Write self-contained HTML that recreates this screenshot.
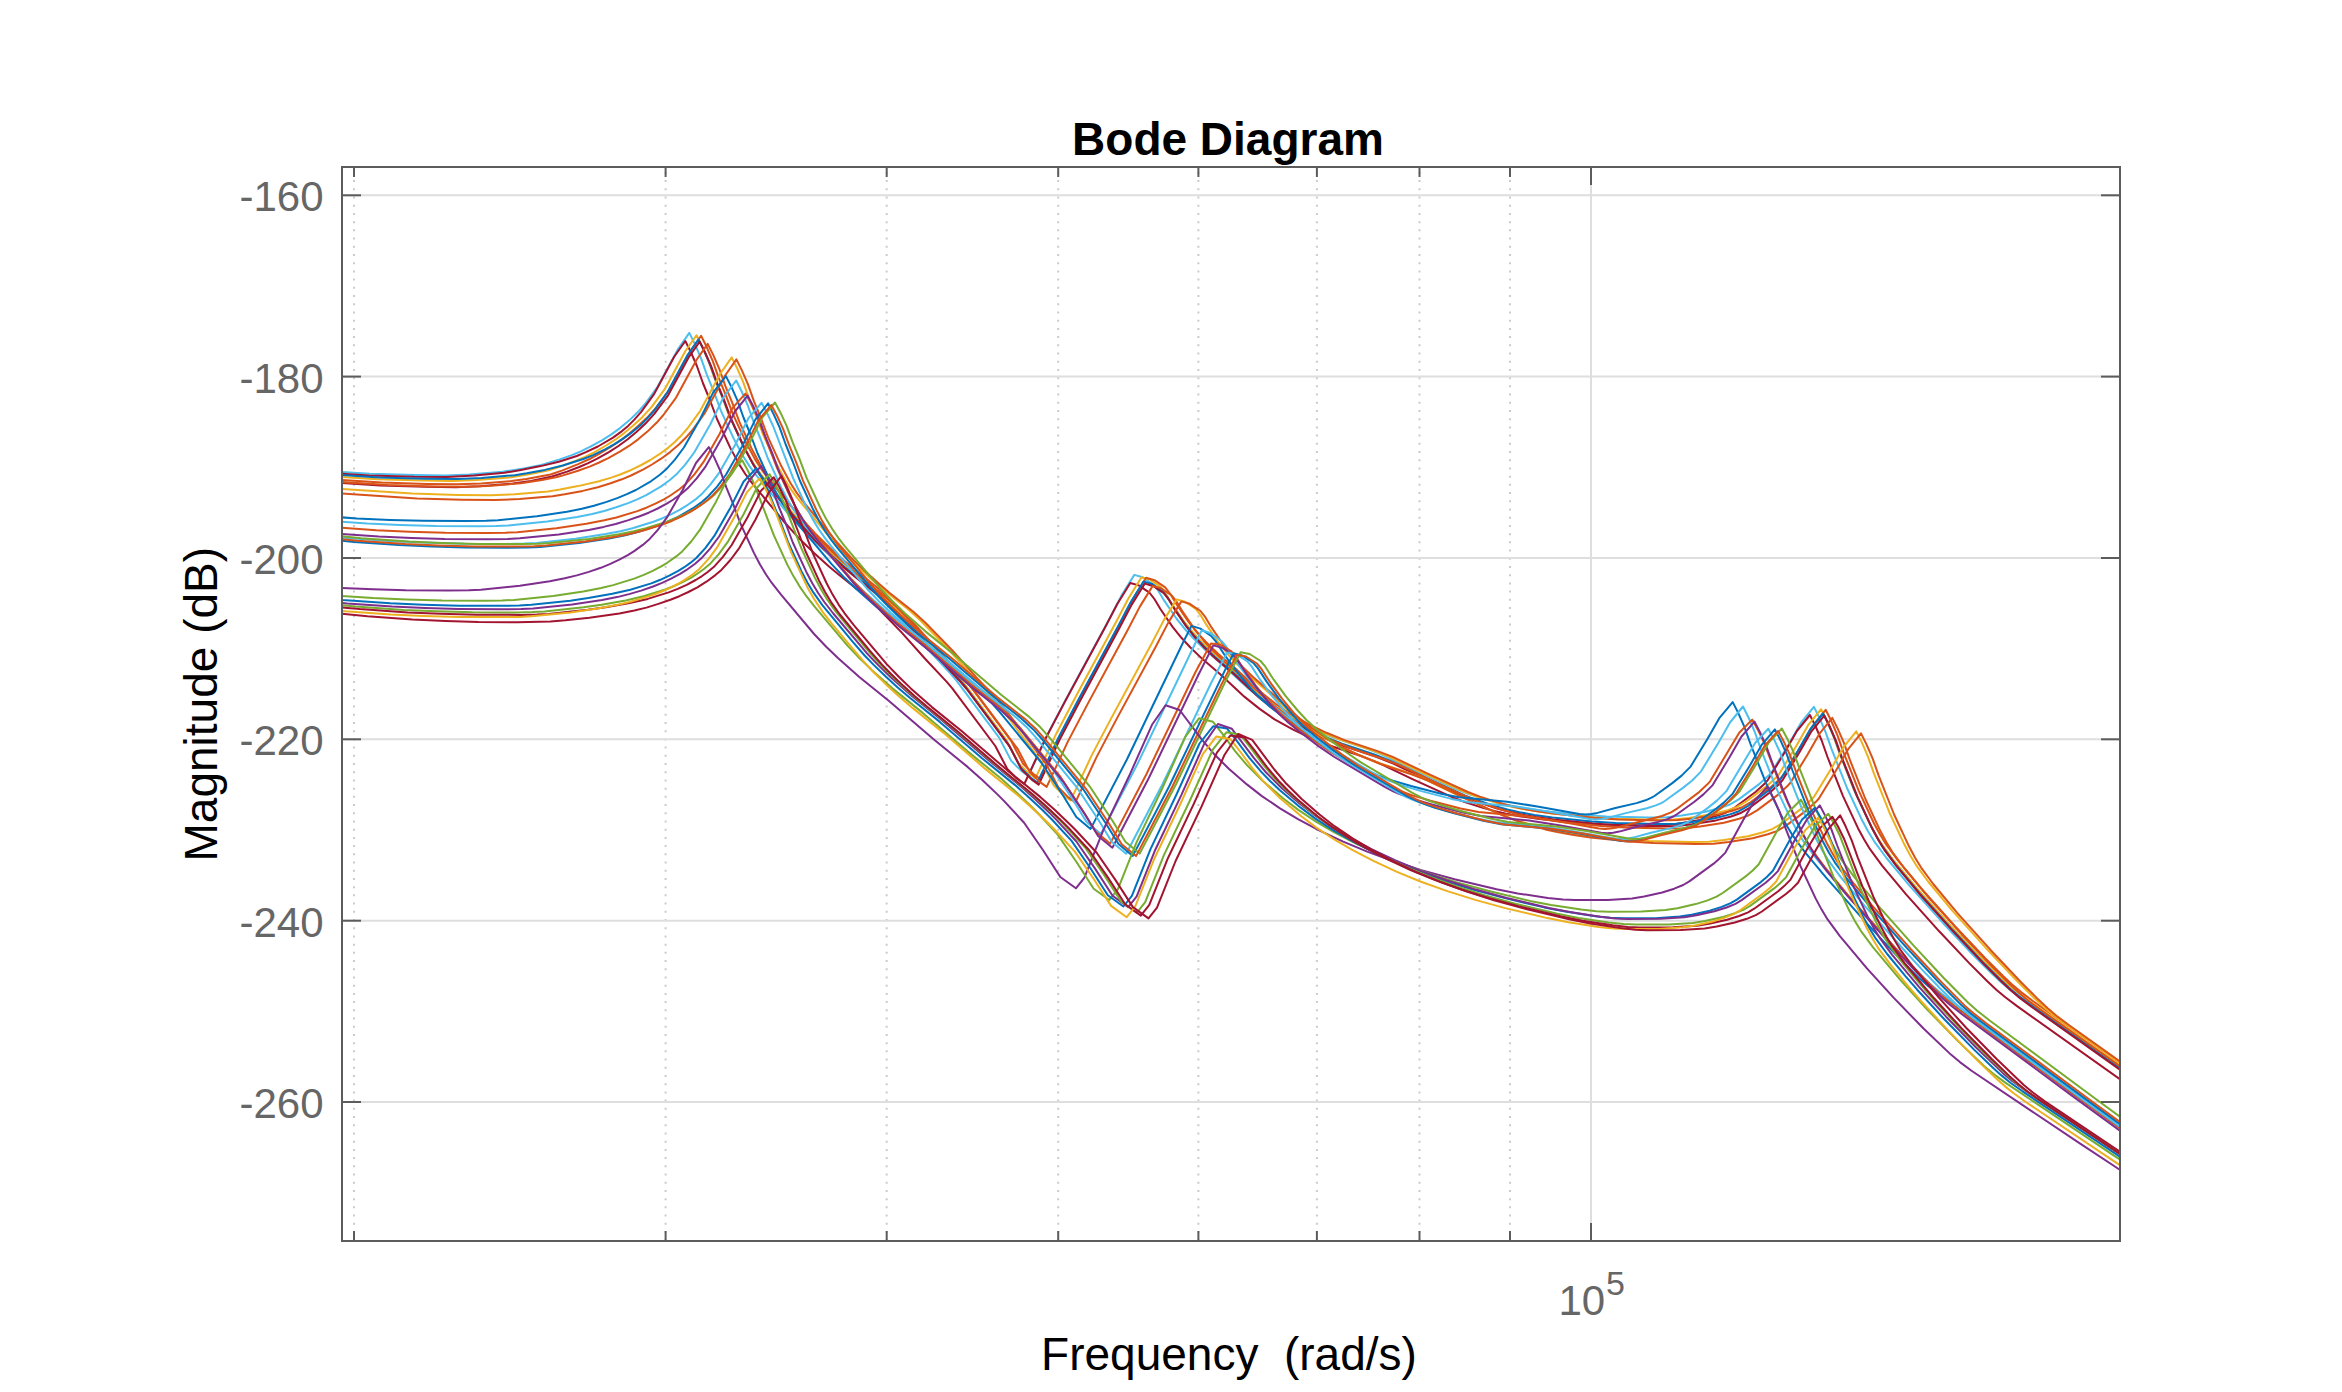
<!DOCTYPE html>
<html><head><meta charset="utf-8"><title>Bode Diagram</title>
<style>
html,body{margin:0;padding:0;background:#fff;}
svg{display:block;}
.gr{stroke:#dedede;stroke-width:2;}
.mg{stroke:#cbcbcb;stroke-width:2;stroke-dasharray:2 6.21;stroke-dashoffset:3.32;}
.tk{stroke:#5c5c5c;stroke-width:2;}
.tl{font-family:"Liberation Sans",Arial,sans-serif;font-size:42px;fill:#666;}
.lab{font-family:"Liberation Sans",Arial,sans-serif;font-size:46px;fill:#000;white-space:pre;}
.cv path{fill:none;stroke-width:2;stroke-linejoin:round;}
</style></head><body>
<svg width="2342" height="1392" viewBox="0 0 2342 1392">
<rect width="2342" height="1392" fill="#fff"/>
<defs><clipPath id="pc"><rect x="342.0" y="167.0" width="1778.0" height="1074.0"/></clipPath></defs>
<line x1="354.0" y1="167.0" x2="354.0" y2="1241.0" class="mg"/>
<line x1="665.6" y1="167.0" x2="665.6" y2="1241.0" class="mg"/>
<line x1="886.7" y1="167.0" x2="886.7" y2="1241.0" class="mg"/>
<line x1="1058.2" y1="167.0" x2="1058.2" y2="1241.0" class="mg"/>
<line x1="1198.4" y1="167.0" x2="1198.4" y2="1241.0" class="mg"/>
<line x1="1316.9" y1="167.0" x2="1316.9" y2="1241.0" class="mg"/>
<line x1="1419.5" y1="167.0" x2="1419.5" y2="1241.0" class="mg"/>
<line x1="1510.0" y1="167.0" x2="1510.0" y2="1241.0" class="mg"/>
<line x1="1591.0" y1="167.0" x2="1591.0" y2="1241.0" class="gr"/>
<line x1="342.0" y1="195.3" x2="2120.0" y2="195.3" class="gr"/>
<line x1="342.0" y1="376.6" x2="2120.0" y2="376.6" class="gr"/>
<line x1="342.0" y1="558.0" x2="2120.0" y2="558.0" class="gr"/>
<line x1="342.0" y1="739.3" x2="2120.0" y2="739.3" class="gr"/>
<line x1="342.0" y1="920.7" x2="2120.0" y2="920.7" class="gr"/>
<line x1="342.0" y1="1102.0" x2="2120.0" y2="1102.0" class="gr"/>
<g class="cv" clip-path="url(#pc)">
<path d="M219.3,466.5 L246.4,466.8 L279.6,467.9 L369.9,473.7 L415.1,475.0 L445.3,475.4 L469.4,474.5 L502.5,471.8 L523.6,468.5 L538.7,465.6 L544.7,464.0 L559.7,459.4 L571.8,455.1 L580.8,451.3 L589.9,446.9 L601.9,440.3 L611.0,434.6 L620.0,428.1 L629.0,420.6 L638.1,411.8 L645.0,404.0 L657.7,386.6 L678.2,348.7 L689.3,332.9 L694.8,343.9 L700.9,357.9 L706.9,374.9 L713.9,391.9 L721.0,410.9 L734.3,439.8 L743.3,456.5 L749.3,465.9 L755.3,474.1 L788.3,513.9 L803.3,530.5 L818.3,545.1 L833.3,558.6 L842.3,566.2 L866.3,585.3 L878.3,596.2 L905.3,624.0 L929.3,650.9 L950.3,673.3 L956.3,680.3 L999.3,737.9 L1011.3,760.9 L1021.3,770.9 L1028.3,775.9 L1049.3,730.9 L1069.3,692.9 L1109.3,618.9 L1121.3,595.9 L1134.3,574.9 L1142.7,577.3 L1153.4,584.5 L1158.4,590.9 L1164.4,600.9 L1176.4,618.5 L1185.4,629.7 L1194.4,639.4 L1206.5,651.0 L1224.5,666.4 L1248.6,688.8 L1263.6,700.8 L1278.6,711.3 L1296.7,721.3 L1314.7,729.9 L1332.8,737.2 L1365.8,748.2 L1380.9,754.0 L1417.0,771.3 L1456.1,789.1 L1468.1,793.7 L1486.1,799.5 L1498.2,802.9 L1510.2,805.6 L1525.2,808.3 L1543.3,810.9 L1582.4,814.9 L1606.4,816.5 L1648.5,817.5 L1666.6,817.2 L1681.6,815.6 L1705.6,811.7 L1720.7,807.8 L1729.7,804.6 L1738.7,799.4 L1759.8,783.6 L1768.8,775.3 L1771.8,772.0 L1788.9,743.9 L1800.9,722.9 L1813.9,706.9 L1819.4,717.9 L1825.5,731.9 L1831.5,748.9 L1847.0,788.0 L1862.0,820.1 L1868.0,831.2 L1874.0,841.1 L1886.1,857.5 L1910.1,886.3 L1943.2,923.2 L1973.2,955.0 L1991.3,973.1 L2000.3,981.6 L2009.3,989.2 L2021.4,998.3 L2129.6,1075.2 L2213.8,1134.0 L2273.9,1175.5" stroke="#4DBEEE"/>
<path d="M215.3,468.2 L242.4,468.5 L275.6,469.6 L369.0,475.5 L414.1,476.8 L447.3,477.0 L474.4,475.6 L504.5,472.8 L519.6,470.2 L540.7,466.1 L558.8,461.7 L576.8,456.0 L585.9,452.2 L597.9,446.5 L613.0,437.6 L622.0,431.1 L628.1,425.9 L634.1,419.9 L641.0,412.1 L653.7,394.7 L674.2,356.8 L685.3,341.0 L690.8,352.0 L696.9,366.0 L702.9,383.0 L709.9,400.0 L717.0,419.0 L730.3,447.9 L739.3,464.6 L745.3,474.0 L751.3,482.2 L784.3,522.0 L799.3,538.6 L814.3,553.2 L829.3,566.7 L838.3,574.3 L862.3,593.4 L874.3,604.3 L901.3,632.1 L925.3,659.0 L946.3,681.4 L952.3,688.4 L995.3,746.0 L1007.3,769.0 L1017.3,779.0 L1024.3,784.0 L1045.3,739.0 L1065.3,701.0 L1105.3,627.0 L1117.3,604.0 L1130.3,583.0 L1138.7,585.4 L1149.4,592.6 L1154.4,599.0 L1160.4,609.0 L1172.4,626.6 L1181.4,637.8 L1190.4,647.5 L1202.5,659.1 L1220.5,674.5 L1244.6,696.9 L1259.6,708.9 L1274.6,719.4 L1292.7,729.4 L1310.7,738.0 L1328.8,745.3 L1361.8,756.3 L1376.9,762.1 L1413.0,779.4 L1452.1,797.2 L1464.1,801.8 L1482.1,807.6 L1494.2,811.0 L1506.2,813.7 L1521.2,816.4 L1539.3,819.0 L1578.4,823.0 L1602.4,824.6 L1644.5,825.6 L1662.6,825.3 L1677.6,823.7 L1701.6,819.8 L1716.7,815.9 L1725.7,812.7 L1734.7,807.5 L1755.8,791.7 L1764.8,783.4 L1767.8,780.1 L1784.9,752.0 L1796.9,731.0 L1809.9,715.0 L1815.4,726.0 L1821.5,740.0 L1827.5,757.0 L1843.0,796.1 L1858.0,828.2 L1864.0,839.3 L1870.0,849.2 L1882.1,865.6 L1906.1,894.4 L1939.2,931.3 L1969.2,963.1 L1987.3,981.2 L1996.3,989.7 L2005.3,997.3 L2017.4,1006.4 L2125.6,1083.3 L2209.8,1142.1 L2269.9,1183.6" stroke="#A2142F"/>
<path d="M226.5,472.0 L253.6,472.4 L286.8,473.4 L377.1,479.3 L422.3,480.6 L452.5,480.9 L476.6,480.1 L509.7,477.4 L527.8,474.6 L548.9,470.3 L563.9,465.3 L576.0,460.7 L585.0,456.8 L594.1,452.3 L606.1,445.5 L615.2,439.7 L624.2,433.1 L633.2,425.6 L642.3,417.2 L651.3,407.3 L664.9,388.9 L685.4,351.0 L696.5,335.2 L702.0,346.2 L708.1,360.2 L714.1,377.2 L721.1,394.2 L728.2,413.2 L741.5,442.1 L750.5,458.8 L756.5,468.2 L762.5,476.4 L795.5,516.2 L810.5,532.8 L825.5,547.4 L840.5,560.9 L849.5,568.5 L873.5,587.6 L885.5,598.5 L912.5,626.3 L936.5,653.2 L957.5,675.6 L963.5,682.6 L1006.5,740.2 L1018.5,763.2 L1028.5,773.2 L1035.5,778.2 L1056.5,733.2 L1076.5,695.2 L1116.5,621.2 L1128.5,598.2 L1141.5,577.2 L1149.9,579.6 L1160.6,586.8 L1165.6,593.2 L1171.6,603.2 L1183.6,620.8 L1192.6,632.0 L1201.6,641.7 L1213.7,653.3 L1231.7,668.7 L1255.8,691.1 L1270.8,703.1 L1285.8,713.6 L1303.9,723.6 L1321.9,732.2 L1340.0,739.5 L1373.0,750.5 L1388.1,756.3 L1424.2,773.6 L1463.3,791.4 L1475.3,796.0 L1493.3,801.8 L1505.4,805.2 L1517.4,807.9 L1532.4,810.6 L1550.5,813.2 L1589.6,817.2 L1613.6,818.8 L1655.7,819.8 L1673.8,819.5 L1688.8,817.9 L1712.8,814.0 L1727.9,810.1 L1736.9,806.9 L1745.9,801.7 L1767.0,785.9 L1776.0,777.6 L1779.0,774.3 L1796.1,746.2 L1808.1,725.2 L1821.1,709.2 L1826.6,720.2 L1832.7,734.2 L1838.7,751.2 L1854.2,790.3 L1869.2,822.4 L1875.2,833.5 L1881.2,843.4 L1893.3,859.8 L1917.3,888.6 L1950.4,925.5 L1980.4,957.3 L1998.5,975.4 L2007.5,983.9 L2016.5,991.5 L2028.6,1000.6 L2136.8,1077.5 L2221.0,1136.3 L2281.1,1177.8" stroke="#EDB120"/>
<path d="M231.1,475.4 L258.2,475.7 L291.4,476.8 L381.7,482.6 L426.9,483.9 L457.1,484.3 L481.2,483.4 L511.3,481.1 L526.4,479.0 L550.5,474.5 L562.5,470.4 L577.6,464.4 L589.6,459.0 L598.7,454.2 L610.7,447.0 L619.8,440.9 L628.8,434.1 L637.8,426.3 L646.9,417.8 L655.9,407.9 L669.5,389.5 L690.0,351.6 L701.1,335.8 L706.6,346.8 L712.7,360.8 L718.7,377.8 L725.7,394.8 L732.8,413.8 L746.1,442.7 L755.1,459.4 L761.1,468.8 L767.1,477.0 L800.1,516.8 L815.1,533.4 L830.1,548.0 L845.1,561.5 L854.1,569.1 L878.1,588.2 L890.1,599.1 L917.1,626.9 L941.1,653.8 L962.1,676.2 L968.1,683.2 L1011.1,740.8 L1023.1,763.8 L1033.1,773.8 L1040.1,778.8 L1061.1,733.8 L1081.1,695.8 L1121.1,621.8 L1133.1,598.8 L1146.1,577.8 L1154.5,580.2 L1165.2,587.4 L1170.2,593.8 L1176.2,603.8 L1188.2,621.4 L1197.2,632.6 L1206.2,642.3 L1218.3,653.9 L1236.3,669.3 L1260.4,691.7 L1275.4,703.7 L1290.4,714.2 L1308.5,724.2 L1326.5,732.8 L1344.6,740.1 L1377.6,751.1 L1392.7,756.9 L1428.8,774.2 L1467.9,792.0 L1479.9,796.6 L1497.9,802.4 L1510.0,805.8 L1522.0,808.5 L1537.0,811.2 L1555.1,813.8 L1594.2,817.8 L1618.2,819.4 L1660.3,820.4 L1678.4,820.1 L1693.4,818.5 L1717.4,814.6 L1732.5,810.7 L1741.5,807.5 L1750.5,802.3 L1771.6,786.5 L1780.6,778.2 L1783.6,774.9 L1800.7,746.8 L1812.7,725.8 L1825.7,709.8 L1831.2,720.8 L1837.3,734.8 L1843.3,751.8 L1858.8,790.9 L1873.8,823.0 L1879.8,834.1 L1885.8,844.0 L1897.9,860.4 L1921.9,889.2 L1955.0,926.1 L1985.0,957.9 L2003.1,976.0 L2012.1,984.5 L2021.1,992.1 L2033.2,1001.2 L2141.4,1078.1 L2225.6,1136.9 L2285.7,1178.4" stroke="#D95319"/>
<path d="M228.5,470.2 L255.6,470.5 L288.8,471.6 L379.1,477.4 L424.3,478.7 L457.5,479.0 L481.6,478.0 L514.7,475.2 L526.8,473.3 L544.8,469.9 L562.9,465.5 L584.0,458.7 L593.1,455.1 L605.1,449.3 L614.1,444.3 L623.2,438.6 L632.2,432.1 L641.3,424.4 L647.3,418.4 L654.2,410.6 L666.9,393.2 L687.4,355.3 L698.5,339.5 L704.0,350.5 L710.1,364.5 L716.1,381.5 L723.1,398.5 L730.2,417.5 L743.5,446.4 L752.5,463.1 L758.5,472.5 L764.5,480.7 L797.5,520.5 L812.5,537.1 L827.5,551.7 L842.5,565.2 L851.5,572.8 L875.5,591.9 L887.5,602.8 L914.5,630.6 L938.5,657.5 L959.5,679.9 L965.5,686.9 L1008.5,744.5 L1020.5,767.5 L1030.5,777.5 L1037.5,782.5 L1058.5,737.5 L1078.5,699.5 L1118.5,625.5 L1130.5,602.5 L1143.5,581.5 L1151.9,583.9 L1162.6,591.1 L1167.6,597.5 L1173.6,607.5 L1185.6,625.1 L1194.6,636.3 L1203.6,646.0 L1215.7,657.6 L1233.7,673.0 L1257.8,695.4 L1272.8,707.4 L1287.8,717.9 L1305.9,727.9 L1323.9,736.5 L1342.0,743.8 L1375.0,754.8 L1390.1,760.6 L1426.2,777.9 L1465.3,795.7 L1477.3,800.3 L1495.3,806.1 L1507.4,809.5 L1519.4,812.2 L1534.4,814.9 L1552.5,817.5 L1591.6,821.5 L1615.6,823.1 L1657.7,824.1 L1675.8,823.8 L1690.8,822.2 L1714.8,818.3 L1729.9,814.4 L1738.9,811.2 L1747.9,806.0 L1769.0,790.2 L1778.0,781.9 L1781.0,778.6 L1798.1,750.5 L1810.1,729.5 L1823.1,713.5 L1828.6,724.5 L1834.7,738.5 L1840.7,755.5 L1856.2,794.6 L1871.2,826.7 L1877.2,837.8 L1883.2,847.7 L1895.3,864.1 L1919.3,892.9 L1952.4,929.8 L1982.4,961.6 L2000.5,979.7 L2009.5,988.2 L2018.5,995.8 L2030.6,1004.9 L2138.8,1081.8 L2223.0,1140.6 L2283.1,1182.1" stroke="#0072BD"/>
<path d="M229.7,478.3 L256.8,478.6 L290.0,479.7 L380.3,485.5 L425.5,486.8 L455.7,487.2 L479.8,486.3 L512.9,483.6 L531.0,480.9 L552.1,476.5 L567.1,471.6 L579.2,467.0 L588.2,463.1 L597.3,458.6 L609.3,451.8 L618.4,446.0 L627.4,439.5 L636.4,432.0 L645.5,423.6 L654.5,413.7 L668.1,395.3 L688.6,357.4 L699.7,341.6 L705.2,352.6 L711.3,366.6 L717.3,383.6 L724.3,400.6 L731.4,419.6 L744.7,448.5 L753.7,465.2 L759.7,474.6 L765.7,482.8 L798.7,522.6 L813.7,539.2 L828.7,553.8 L843.7,567.3 L852.7,574.9 L876.7,594.0 L888.7,604.9 L915.7,632.7 L939.7,659.6 L960.7,682.0 L966.7,689.0 L1009.7,746.6 L1021.7,769.6 L1031.7,779.6 L1038.7,784.6 L1059.7,739.6 L1079.7,701.6 L1119.7,627.6 L1131.7,604.6 L1144.7,583.6 L1153.1,586.0 L1163.8,593.2 L1168.8,599.6 L1174.8,609.6 L1186.8,627.2 L1195.8,638.4 L1204.8,648.1 L1216.9,659.7 L1234.9,675.1 L1259.0,697.5 L1274.0,709.5 L1289.0,720.0 L1307.1,730.0 L1325.1,738.6 L1343.2,745.9 L1376.2,756.9 L1391.3,762.7 L1427.4,780.0 L1466.5,797.8 L1478.5,802.4 L1496.5,808.2 L1508.6,811.6 L1520.6,814.3 L1535.6,817.0 L1553.7,819.6 L1592.8,823.6 L1616.8,825.2 L1658.9,826.2 L1677.0,825.9 L1692.0,824.3 L1716.0,820.4 L1731.1,816.5 L1740.1,813.3 L1749.1,808.1 L1770.2,792.3 L1779.2,784.0 L1782.2,780.7 L1799.3,752.6 L1811.3,731.6 L1824.3,715.6 L1829.8,726.6 L1835.9,740.6 L1841.9,757.6 L1857.4,796.7 L1872.4,828.8 L1878.4,839.9 L1884.4,849.8 L1896.5,866.2 L1920.5,895.0 L1953.6,931.9 L1983.6,963.7 L2001.7,981.8 L2010.7,990.3 L2019.7,997.9 L2031.8,1007.0 L2140.0,1083.9 L2224.2,1142.7 L2284.3,1184.2" stroke="#A2142F"/>
<path d="M237.7,477.9 L264.8,478.3 L298.0,479.3 L388.3,485.1 L433.5,486.5 L463.7,486.8 L487.8,485.9 L520.9,483.3 L542.0,480.0 L557.1,477.0 L563.1,475.4 L578.1,470.7 L590.2,466.4 L599.2,462.5 L608.3,458.1 L620.3,451.4 L629.4,445.7 L638.4,439.1 L647.4,431.6 L656.5,422.8 L663.4,415.0 L676.1,397.6 L696.6,359.7 L707.7,343.9 L713.2,354.9 L719.3,368.9 L725.3,385.9 L732.3,402.9 L739.4,421.9 L752.7,450.8 L761.7,467.5 L767.7,476.9 L773.7,485.1 L806.7,524.9 L821.7,541.5 L836.7,556.1 L851.7,569.6 L860.7,577.2 L884.7,596.3 L896.7,607.2 L923.7,635.0 L947.7,661.9 L968.7,684.3 L974.7,691.3 L1017.7,748.9 L1029.7,771.9 L1039.7,781.9 L1046.7,786.9 L1067.7,741.9 L1087.7,703.9 L1127.7,629.9 L1139.7,606.9 L1152.7,585.9 L1161.1,588.3 L1171.8,595.5 L1176.8,601.9 L1182.8,611.9 L1194.8,629.5 L1203.8,640.7 L1212.8,650.4 L1224.9,662.0 L1242.9,677.4 L1267.0,699.8 L1282.0,711.8 L1297.0,722.3 L1315.1,732.3 L1333.1,740.9 L1351.2,748.2 L1384.2,759.2 L1399.3,765.0 L1435.4,782.3 L1474.5,800.1 L1486.5,804.7 L1504.5,810.5 L1516.6,813.9 L1528.6,816.6 L1543.6,819.3 L1561.7,821.9 L1600.8,825.9 L1624.8,827.5 L1666.9,828.5 L1685.0,828.2 L1700.0,826.6 L1724.0,822.7 L1739.1,818.8 L1748.1,815.6 L1757.1,810.4 L1778.2,794.6 L1787.2,786.3 L1790.2,783.0 L1807.3,754.9 L1819.3,733.9 L1832.3,717.9 L1837.8,728.9 L1843.9,742.9 L1849.9,759.9 L1865.4,799.0 L1880.4,831.1 L1886.4,842.2 L1892.4,852.1 L1904.5,868.5 L1928.5,897.3 L1961.6,934.2 L1991.6,966.0 L2009.7,984.1 L2018.7,992.6 L2027.7,1000.2 L2039.8,1009.3 L2148.0,1086.2 L2232.2,1145.0 L2292.3,1186.5" stroke="#D95319"/>
<path d="M261.7,486.4 L288.8,486.8 L322.0,487.8 L412.3,493.6 L457.5,495.0 L490.7,495.3 L514.8,494.3 L547.9,491.4 L560.0,489.6 L578.0,486.1 L599.1,481.2 L611.2,477.6 L620.2,474.5 L629.3,470.8 L641.3,465.0 L650.4,460.0 L659.4,454.2 L668.4,447.6 L674.5,442.3 L680.5,436.3 L687.4,428.5 L700.1,411.1 L720.6,373.2 L731.7,357.4 L737.2,368.4 L743.3,382.4 L749.3,399.4 L756.3,416.4 L763.4,435.4 L776.7,464.3 L785.7,481.0 L791.7,490.4 L797.7,498.6 L830.7,538.4 L845.7,555.0 L860.7,569.6 L875.7,583.1 L884.7,590.7 L908.7,609.8 L920.7,620.7 L947.7,648.5 L971.7,675.4 L992.7,697.8 L998.7,704.8 L1041.7,762.4 L1053.7,785.4 L1063.7,795.4 L1070.7,800.4 L1091.7,755.4 L1111.7,717.4 L1151.7,643.4 L1163.7,620.4 L1176.7,599.4 L1185.1,601.8 L1195.8,609.0 L1200.8,615.4 L1206.8,625.4 L1218.8,643.0 L1227.8,654.2 L1236.8,663.9 L1248.9,675.5 L1266.9,690.9 L1291.0,713.3 L1306.0,725.3 L1321.0,735.8 L1339.1,745.8 L1357.1,754.4 L1375.2,761.7 L1408.2,772.7 L1423.3,778.5 L1459.4,795.8 L1498.5,813.6 L1510.5,818.2 L1528.5,824.0 L1540.6,827.4 L1552.6,830.1 L1567.6,832.8 L1585.7,835.4 L1624.8,839.4 L1648.8,841.0 L1690.9,842.0 L1709.0,841.7 L1724.0,840.1 L1748.0,836.2 L1763.1,832.3 L1772.1,829.1 L1781.1,823.9 L1802.2,808.1 L1811.2,799.8 L1814.2,796.5 L1831.3,768.4 L1843.3,747.4 L1856.3,731.4 L1861.8,742.4 L1867.9,756.4 L1873.9,773.4 L1889.4,812.5 L1904.4,844.6 L1910.4,855.7 L1916.4,865.6 L1928.5,882.0 L1952.5,910.8 L1985.6,947.7 L2015.6,979.5 L2033.7,997.6 L2042.7,1006.1 L2051.7,1013.7 L2063.8,1022.8 L2172.0,1099.7 L2256.2,1158.5 L2316.3,1200.0" stroke="#EDB120"/>
<path d="M266.4,491.2 L293.5,491.6 L326.7,492.6 L417.0,498.4 L462.2,499.7 L495.4,500.0 L519.5,499.0 L552.6,496.2 L564.7,494.3 L582.7,490.9 L597.8,487.2 L609.9,483.5 L621.9,479.3 L631.0,475.5 L643.0,469.6 L652.0,464.5 L661.1,458.7 L670.1,452.1 L679.2,444.3 L685.2,438.3 L692.1,430.5 L704.8,413.1 L725.3,375.2 L736.4,359.4 L741.9,370.4 L748.0,384.4 L754.0,401.4 L761.0,418.4 L768.1,437.4 L781.4,466.3 L790.4,483.0 L796.4,492.4 L802.4,500.6 L835.4,540.4 L850.4,557.0 L865.4,571.6 L880.4,585.1 L889.4,592.7 L913.4,611.8 L925.4,622.7 L952.4,650.5 L976.4,677.4 L997.4,699.8 L1003.4,706.8 L1046.4,764.4 L1058.4,787.4 L1068.4,797.4 L1075.4,802.4 L1096.4,757.4 L1116.4,719.4 L1156.4,645.4 L1168.4,622.4 L1181.4,601.4 L1189.8,603.8 L1200.5,611.0 L1205.5,617.4 L1211.5,627.4 L1223.5,645.0 L1232.5,656.2 L1241.5,665.9 L1253.6,677.5 L1271.6,692.9 L1295.7,715.3 L1310.7,727.3 L1325.7,737.8 L1343.8,747.8 L1361.8,756.4 L1379.9,763.7 L1412.9,774.7 L1428.0,780.5 L1464.1,797.8 L1503.2,815.6 L1515.2,820.2 L1533.2,826.0 L1545.3,829.4 L1557.3,832.1 L1572.3,834.8 L1590.4,837.4 L1629.5,841.4 L1653.5,843.0 L1695.6,844.0 L1713.7,843.7 L1728.7,842.1 L1752.7,838.2 L1767.8,834.3 L1776.8,831.1 L1785.8,825.9 L1806.9,810.1 L1815.9,801.8 L1818.9,798.5 L1836.0,770.4 L1848.0,749.4 L1861.0,733.4 L1866.5,744.4 L1872.6,758.4 L1878.6,775.4 L1894.1,814.5 L1909.1,846.6 L1915.1,857.7 L1921.1,867.6 L1933.2,884.0 L1957.2,912.8 L1990.3,949.7 L2020.3,981.5 L2038.4,999.6 L2047.4,1008.1 L2056.4,1015.7 L2068.5,1024.8 L2176.7,1101.7 L2260.9,1160.5 L2321.0,1202.0" stroke="#D95319"/>
<path d="M245.9,508.9 L311.9,515.3 L356.9,518.4 L389.9,519.9 L422.9,520.8 L464.9,521.1 L485.9,520.8 L497.9,520.3 L536.9,516.3 L566.9,511.8 L581.9,508.8 L593.9,505.8 L605.9,502.1 L617.9,497.9 L626.9,494.2 L635.9,490.0 L650.9,481.3 L659.9,474.7 L665.9,469.6 L674.9,459.6 L683.9,447.5 L699.9,419.5 L713.1,392.6 L725.9,376.1 L731.4,386.9 L737.5,400.7 L743.5,417.5 L750.5,434.5 L757.6,453.5 L771.1,482.9 L777.1,494.4 L783.2,504.4 L789.2,513.1 L795.2,520.9 L831.4,563.9 L843.4,576.6 L855.5,588.2 L876.6,607.0 L906.7,631.2 L952.0,670.1 L979.1,691.4 L991.1,702.4 L1000.2,712.6 L1041.2,762.5 L1063.7,796.5 L1076.3,817.1 L1090.6,828.9 L1126.9,759.5 L1183.9,640.8 L1191.5,625.9 L1200.5,628.6 L1211.5,636.3 L1215.6,641.1 L1224.6,655.0 L1239.6,675.2 L1251.6,689.2 L1260.7,698.5 L1269.7,706.4 L1287.7,720.5 L1299.7,729.5 L1311.8,737.8 L1362.9,768.0 L1371.9,772.7 L1377.9,775.4 L1392.9,780.7 L1411.0,786.0 L1441.1,793.8 L1459.1,797.3 L1507.2,801.8 L1537.3,806.4 L1579.4,813.9 L1585.4,814.4 L1591.4,813.9 L1597.4,812.9 L1615.4,808.0 L1636.5,803.1 L1645.5,800.3 L1651.5,797.7 L1654.5,796.0 L1672.6,782.9 L1681.6,775.6 L1690.6,766.6 L1707.7,738.5 L1719.7,717.6 L1732.7,702.1 L1738.2,712.9 L1744.3,726.7 L1750.3,743.5 L1765.8,782.6 L1780.8,814.7 L1786.8,825.8 L1792.8,835.7 L1804.9,852.1 L1825.9,877.4 L1865.0,921.4 L1895.1,953.9 L1919.1,978.1 L1928.1,986.0 L1940.2,995.5 L2048.4,1075.6 L2132.6,1137.0 L2192.7,1180.3" stroke="#0072BD"/>
<path d="M256.2,514.1 L322.2,520.5 L367.2,523.6 L400.2,525.1 L436.2,526.1 L478.2,526.3 L496.2,526.0 L508.2,525.5 L547.2,521.5 L577.2,517.0 L592.2,514.0 L604.2,511.0 L616.2,507.3 L628.2,503.1 L637.2,499.3 L646.2,495.1 L661.2,486.4 L670.2,479.8 L676.2,474.6 L685.2,464.7 L694.2,452.5 L710.2,424.5 L723.4,397.5 L736.2,380.5 L741.7,391.5 L747.8,405.5 L753.8,422.5 L760.8,439.5 L767.9,458.5 L781.4,487.9 L787.4,499.5 L793.5,509.4 L799.5,518.2 L805.5,526.0 L841.7,569.0 L853.7,581.7 L865.8,593.3 L886.9,612.0 L917.0,636.3 L962.3,675.1 L989.4,696.5 L1001.4,707.5 L1010.5,717.6 L1051.5,767.5 L1074.0,801.5 L1086.6,822.1 L1100.9,833.9 L1137.2,764.5 L1194.2,645.5 L1201.8,630.3 L1210.8,633.3 L1221.8,641.3 L1225.9,646.2 L1234.9,660.0 L1249.9,680.3 L1261.9,694.3 L1271.0,703.5 L1280.0,711.5 L1298.0,725.6 L1310.0,734.6 L1322.1,742.8 L1373.2,773.1 L1382.2,777.8 L1388.2,780.4 L1403.2,785.8 L1421.3,791.1 L1451.4,798.9 L1469.4,802.3 L1517.5,806.8 L1547.6,811.5 L1589.7,819.0 L1595.7,819.4 L1601.7,819.0 L1607.7,817.9 L1625.7,813.1 L1646.8,808.2 L1655.8,805.4 L1661.8,802.8 L1664.8,801.0 L1682.9,787.9 L1691.9,780.7 L1700.9,771.6 L1718.0,743.5 L1730.0,722.5 L1743.0,706.5 L1748.5,717.5 L1754.6,731.5 L1760.6,748.5 L1776.1,787.7 L1791.1,819.7 L1797.1,830.9 L1803.1,840.7 L1815.2,857.1 L1836.2,882.5 L1875.3,926.5 L1905.4,958.9 L1929.4,983.2 L1938.4,991.1 L1950.5,1000.5 L2058.7,1080.7 L2142.9,1142.0 L2203.0,1185.3" stroke="#4DBEEE"/>
<path d="M265.4,520.8 L331.4,527.1 L376.4,530.3 L409.4,531.8 L445.4,532.8 L487.4,532.9 L505.4,532.7 L517.4,532.2 L556.4,528.2 L586.4,523.7 L604.4,520.3 L616.4,517.5 L637.4,511.1 L646.4,507.7 L655.4,503.7 L664.4,499.1 L670.4,495.5 L679.4,489.2 L685.4,484.3 L694.4,474.3 L703.4,462.2 L719.4,434.2 L732.6,407.9 L745.4,393.6 L750.9,403.4 L757.0,416.1 L777.1,468.2 L790.6,497.6 L796.6,509.1 L802.7,519.1 L808.7,527.8 L814.7,535.6 L850.9,578.6 L862.9,591.3 L875.0,602.9 L896.1,621.7 L926.2,645.9 L971.5,684.8 L998.6,706.1 L1010.6,717.1 L1019.7,727.3 L1060.7,777.2 L1083.2,811.2 L1095.8,831.8 L1110.1,843.6 L1146.4,774.2 L1195.4,672.3 L1211.0,643.4 L1220.0,644.5 L1231.0,651.0 L1235.1,655.8 L1244.1,669.7 L1256.1,686.1 L1268.1,700.5 L1277.1,710.2 L1286.2,718.6 L1295.2,725.9 L1316.2,742.0 L1331.3,752.4 L1382.4,782.7 L1391.4,787.4 L1397.4,790.0 L1412.4,795.4 L1430.5,800.7 L1460.6,808.5 L1478.6,812.0 L1526.7,816.5 L1556.8,821.1 L1598.9,828.6 L1604.9,829.1 L1610.9,828.6 L1616.9,827.5 L1662.0,816.0 L1671.0,812.4 L1677.0,808.7 L1698.1,792.9 L1707.1,784.6 L1710.1,781.3 L1739.2,732.8 L1752.2,719.6 L1757.7,729.4 L1763.8,742.1 L1782.3,790.2 L1788.3,803.9 L1800.3,829.4 L1806.3,840.5 L1812.3,850.4 L1824.4,866.7 L1848.4,895.6 L1887.5,939.5 L1905.5,959.0 L1923.6,977.9 L1941.6,995.6 L1959.7,1010.2 L2067.9,1090.3 L2152.1,1151.7 L2212.2,1195.0" stroke="#D95319"/>
<path d="M267.7,526.9 L333.7,533.3 L378.7,536.5 L411.7,537.9 L444.7,538.9 L486.7,539.2 L507.7,538.9 L519.7,538.3 L558.7,534.4 L588.7,529.9 L603.7,526.9 L615.7,524.0 L627.7,520.4 L639.7,516.3 L648.7,512.7 L657.7,508.5 L666.7,503.7 L672.7,500.0 L681.7,493.5 L687.7,488.3 L696.7,478.4 L705.7,466.3 L721.7,438.3 L734.9,411.5 L747.7,395.6 L753.2,406.1 L759.3,419.6 L765.3,436.3 L772.3,453.3 L779.4,472.3 L792.9,501.6 L798.9,513.2 L805.0,523.2 L811.0,531.9 L817.0,539.7 L853.2,582.7 L865.2,595.4 L877.3,607.0 L898.4,625.7 L928.5,650.0 L973.8,688.9 L1000.9,710.2 L1012.9,721.2 L1022.0,731.4 L1063.0,781.3 L1085.5,815.3 L1098.1,835.9 L1112.4,847.7 L1148.7,778.3 L1197.7,676.3 L1213.3,645.4 L1222.3,647.7 L1233.3,655.1 L1237.4,659.9 L1246.4,673.8 L1258.4,690.2 L1270.4,704.6 L1279.4,714.3 L1288.5,722.7 L1297.5,730.0 L1318.5,746.1 L1333.6,756.5 L1384.7,786.8 L1393.7,791.5 L1399.7,794.1 L1414.7,799.5 L1432.8,804.8 L1462.9,812.6 L1480.9,816.0 L1529.0,820.5 L1559.1,825.2 L1601.2,832.7 L1607.2,833.2 L1613.2,832.7 L1619.2,831.6 L1637.2,826.8 L1658.3,821.9 L1667.3,819.1 L1673.3,816.5 L1676.3,814.7 L1694.4,801.7 L1703.4,794.4 L1712.4,785.4 L1729.5,757.3 L1741.5,736.5 L1754.5,721.6 L1760.0,732.1 L1766.1,745.6 L1772.1,762.3 L1787.6,801.4 L1802.6,833.5 L1808.6,844.6 L1814.6,854.5 L1826.7,870.8 L1847.7,896.2 L1886.8,940.2 L1916.9,972.6 L1940.9,996.9 L1949.9,1004.8 L1962.0,1014.3 L2070.2,1094.4 L2154.4,1155.8 L2214.5,1199.1" stroke="#7E2F8E"/>
<path d="M281.5,531.7 L347.5,538.1 L395.5,541.4 L428.5,542.8 L464.5,543.8 L506.5,543.9 L524.5,543.6 L536.5,542.9 L575.5,538.8 L605.5,534.1 L620.5,531.2 L632.5,528.2 L653.5,521.7 L662.5,518.2 L671.5,514.1 L680.5,509.4 L686.5,505.7 L695.5,499.4 L701.5,494.3 L710.5,484.4 L719.5,472.3 L735.5,444.3 L748.7,417.8 L761.5,402.8 L767.0,412.9 L773.1,426.0 L793.2,478.3 L806.7,507.6 L812.7,519.2 L818.8,529.2 L824.8,537.9 L830.8,545.7 L867.0,588.7 L879.0,601.4 L891.1,613.0 L912.2,631.7 L942.3,656.0 L987.6,694.8 L1014.7,716.2 L1026.7,727.2 L1035.8,737.3 L1076.8,787.3 L1099.3,821.3 L1111.9,841.9 L1126.2,853.7 L1162.5,784.3 L1211.5,682.3 L1227.1,652.6 L1236.1,654.2 L1247.1,661.1 L1251.2,665.9 L1260.2,679.7 L1272.2,696.2 L1284.2,710.6 L1293.2,720.3 L1302.3,728.7 L1311.3,736.0 L1332.3,752.1 L1347.4,762.5 L1398.5,792.8 L1407.5,797.5 L1413.5,800.1 L1428.5,805.5 L1446.6,810.8 L1476.7,818.6 L1494.7,822.0 L1542.8,826.5 L1572.9,831.2 L1615.0,838.7 L1621.0,839.2 L1627.0,838.7 L1633.0,837.6 L1651.0,832.8 L1672.1,827.9 L1681.1,825.1 L1687.1,822.5 L1690.1,820.7 L1708.2,807.6 L1717.2,800.4 L1726.2,791.4 L1755.3,742.7 L1768.3,728.8 L1773.8,738.9 L1779.9,752.0 L1785.9,768.3 L1801.4,807.4 L1816.4,839.5 L1822.4,850.6 L1828.4,860.4 L1840.5,876.8 L1864.5,905.6 L1903.6,949.5 L1921.6,969.1 L1939.7,988.0 L1957.7,1005.6 L1975.8,1020.3 L2084.0,1100.4 L2168.2,1161.8 L2228.3,1205.1" stroke="#4DBEEE"/>
<path d="M288.1,535.5 L354.1,541.9 L399.1,545.0 L432.1,546.5 L465.1,547.5 L507.1,547.7 L528.1,547.5 L540.1,546.9 L579.1,542.9 L609.1,538.4 L624.1,535.5 L636.1,532.5 L648.1,528.9 L660.1,524.7 L669.1,521.0 L678.1,516.8 L693.1,508.2 L702.1,501.7 L708.1,496.5 L717.1,486.6 L726.1,474.5 L742.1,446.5 L755.3,419.6 L768.1,403.4 L773.6,414.1 L779.7,427.7 L785.7,444.5 L792.7,461.5 L799.8,480.5 L813.3,509.8 L819.3,521.4 L825.4,531.4 L831.4,540.1 L837.4,547.9 L873.6,590.9 L885.6,603.6 L897.7,615.2 L918.8,633.9 L948.9,658.2 L994.2,697.0 L1021.3,718.4 L1033.3,729.4 L1042.4,739.5 L1083.4,789.5 L1105.9,823.5 L1118.5,844.1 L1132.8,855.9 L1169.1,786.5 L1226.1,667.9 L1233.7,653.2 L1242.7,655.7 L1253.7,663.3 L1257.8,668.1 L1266.8,681.9 L1278.8,698.4 L1290.8,712.8 L1299.8,722.5 L1308.9,730.9 L1317.9,738.2 L1338.9,754.3 L1354.0,764.7 L1405.1,795.0 L1414.1,799.7 L1420.1,802.3 L1435.1,807.7 L1453.2,813.0 L1483.3,820.8 L1501.3,824.2 L1549.4,828.7 L1579.5,833.4 L1621.6,840.9 L1627.6,841.3 L1633.6,840.9 L1639.6,839.8 L1657.6,835.0 L1678.7,830.1 L1687.7,827.3 L1693.7,824.7 L1696.7,822.9 L1714.8,809.8 L1723.8,802.6 L1732.8,793.6 L1749.9,765.5 L1761.9,744.6 L1774.9,729.4 L1780.4,740.1 L1786.5,753.7 L1792.5,770.5 L1808.0,809.6 L1823.0,841.7 L1829.0,852.8 L1835.0,862.6 L1847.1,879.0 L1868.1,904.4 L1907.2,948.4 L1937.3,980.8 L1961.3,1005.1 L1970.3,1013.0 L1982.4,1022.5 L2090.6,1102.6 L2174.8,1164.0 L2234.9,1207.3" stroke="#0072BD"/>
<path d="M295.0,531.8 L361.0,538.2 L409.0,541.5 L442.0,543.0 L478.0,543.9 L520.0,544.0 L538.0,543.7 L550.0,543.0 L589.0,538.9 L619.0,534.2 L634.0,531.3 L646.0,528.3 L667.0,521.7 L676.0,518.2 L685.0,514.1 L694.0,509.3 L700.0,505.7 L709.0,499.3 L715.0,494.2 L724.0,484.3 L733.0,472.2 L749.0,444.2 L762.2,417.6 L775.0,402.5 L780.5,412.7 L786.6,425.8 L792.6,442.2 L799.6,459.2 L806.7,478.2 L820.2,507.5 L826.2,519.1 L832.3,529.1 L838.3,537.8 L844.3,545.6 L880.5,588.6 L892.5,601.3 L904.6,612.9 L925.7,631.6 L955.8,655.9 L1001.1,694.8 L1028.2,716.1 L1040.2,727.1 L1049.3,737.3 L1090.3,787.2 L1112.8,821.2 L1125.4,841.8 L1139.7,853.6 L1176.0,784.2 L1225.0,682.2 L1240.6,652.3 L1249.6,654.0 L1260.6,661.0 L1264.7,665.8 L1273.7,679.7 L1285.7,696.1 L1297.7,710.5 L1306.7,720.2 L1315.8,728.6 L1324.8,735.9 L1345.8,752.0 L1360.9,762.4 L1412.0,792.7 L1421.0,797.4 L1427.0,800.0 L1442.0,805.4 L1460.1,810.7 L1490.2,818.5 L1508.2,822.0 L1556.3,826.5 L1586.4,831.1 L1628.5,838.6 L1634.5,839.1 L1640.5,838.6 L1646.5,837.5 L1664.5,832.7 L1685.6,827.8 L1694.6,825.0 L1700.6,822.4 L1703.6,820.6 L1721.7,807.6 L1730.7,800.3 L1739.7,791.3 L1756.8,763.2 L1768.8,742.6 L1781.8,728.5 L1787.3,738.7 L1793.4,751.8 L1799.4,768.2 L1814.9,807.3 L1829.9,839.4 L1835.9,850.5 L1841.9,860.4 L1854.0,876.7 L1875.0,902.1 L1914.1,946.1 L1944.2,978.5 L1968.2,1002.8 L1977.2,1010.7 L1989.3,1020.2 L2097.5,1100.3 L2181.7,1161.7 L2241.8,1205.0" stroke="#77AC30"/>
<path d="M291.3,534.4 L357.3,540.8 L405.3,544.1 L438.3,545.5 L474.3,546.5 L516.3,546.6 L534.3,546.3 L546.3,545.6 L585.3,541.5 L615.3,536.8 L630.3,533.8 L642.3,530.8 L663.3,524.3 L672.3,520.7 L681.3,516.6 L690.3,511.9 L696.3,508.2 L705.3,501.8 L711.3,496.8 L720.3,486.9 L729.3,474.7 L745.3,446.7 L758.5,420.2 L771.3,405.0 L776.8,415.2 L782.9,428.3 L788.9,444.7 L795.9,461.7 L803.0,480.7 L816.5,510.1 L822.5,521.6 L828.6,531.6 L834.6,540.3 L840.6,548.2 L876.8,591.2 L888.8,603.9 L900.9,615.5 L922.0,634.2 L952.1,658.5 L997.4,697.3 L1024.5,718.6 L1036.5,729.6 L1045.6,739.8 L1086.6,789.7 L1109.1,823.7 L1121.7,844.3 L1136.0,856.1 L1172.3,786.7 L1221.3,684.8 L1236.9,654.8 L1245.9,656.5 L1256.9,663.5 L1261.0,668.4 L1270.0,682.2 L1282.0,698.6 L1294.0,713.1 L1303.0,722.8 L1312.1,731.1 L1321.1,738.5 L1342.1,754.6 L1357.2,765.0 L1408.3,795.2 L1417.3,799.9 L1423.3,802.6 L1438.3,807.9 L1456.4,813.2 L1486.5,821.0 L1504.5,824.5 L1552.6,829.0 L1582.7,833.6 L1624.8,841.2 L1630.8,841.6 L1636.8,841.1 L1642.8,840.1 L1660.8,835.3 L1681.9,830.3 L1690.9,827.5 L1696.9,824.9 L1699.9,823.2 L1718.0,810.1 L1727.0,802.9 L1736.0,793.8 L1753.1,765.7 L1765.1,745.1 L1778.1,731.0 L1783.6,741.2 L1789.7,754.3 L1795.7,770.7 L1811.2,809.8 L1826.2,841.9 L1832.2,853.0 L1838.2,862.9 L1850.3,879.3 L1871.3,904.6 L1910.4,948.7 L1940.5,981.1 L1964.5,1005.4 L1973.5,1013.2 L1985.6,1022.7 L2093.8,1102.8 L2178.0,1164.2 L2238.1,1207.5" stroke="#D95319"/>
<path d="M228.8,578.3 L294.8,584.7 L339.8,587.9 L372.8,589.3 L405.8,590.3 L447.8,590.6 L468.8,590.3 L480.8,589.7 L519.8,585.8 L549.8,581.3 L564.8,578.3 L576.8,575.4 L588.8,571.9 L600.8,567.8 L609.8,564.1 L618.8,559.9 L627.8,555.1 L633.8,551.4 L642.8,544.9 L648.8,539.8 L657.8,529.9 L666.8,517.7 L682.8,489.7 L696.0,463.0 L708.8,447.1 L714.3,457.6 L720.4,471.1 L726.4,487.7 L733.4,504.7 L740.5,523.7 L753.9,552.9 L760.0,564.5 L766.0,574.5 L772.0,583.2 L781.0,594.7 L814.1,634.0 L826.2,646.7 L838.2,658.3 L859.3,677.0 L889.3,701.2 L934.5,740.0 L967.6,766.9 L982.6,780.2 L997.7,794.6 L1003.7,800.6 L1024.1,822.7 L1043.1,850.3 L1060.3,877.0 L1075.9,888.3 L1084.4,877.6 L1103.0,830.9 L1129.0,776.3 L1152.0,724.8 L1165.6,705.2 L1179.6,710.0 L1201.7,739.4 L1213.8,753.7 L1228.8,768.8 L1246.9,784.4 L1261.9,796.1 L1280.0,808.3 L1298.0,819.1 L1319.1,830.3 L1343.2,841.7 L1367.2,851.6 L1394.3,861.5 L1421.4,870.1 L1454.5,879.2 L1496.6,889.2 L1517.7,893.4 L1547.8,898.0 L1562.9,899.6 L1574.9,900.1 L1608.0,900.0 L1632.1,898.4 L1644.1,896.5 L1662.2,892.5 L1674.2,888.7 L1683.2,885.0 L1689.3,881.4 L1713.3,863.9 L1719.3,858.8 L1725.4,852.6 L1743.1,820.2 L1754.6,800.6 L1767.5,786.6 L1773.0,797.1 L1779.1,810.6 L1785.1,827.2 L1800.6,866.4 L1815.6,898.4 L1821.6,909.6 L1827.6,919.4 L1839.7,935.8 L1866.7,968.1 L1893.8,997.9 L1923.8,1028.8 L1950.9,1054.6 L1959.9,1062.1 L1971.9,1071.0 L2080.2,1143.7 L2167.4,1201.1 L2227.5,1240.2" stroke="#7E2F8E"/>
<path d="M262.2,588.5 L328.2,594.9 L373.2,598.1 L406.2,599.5 L442.2,600.5 L484.2,600.7 L502.2,600.5 L514.2,599.9 L553.2,595.9 L583.2,591.4 L601.2,588.0 L613.2,585.1 L634.2,578.6 L643.2,575.1 L652.2,571.1 L661.2,566.4 L667.2,562.8 L676.2,556.4 L682.2,551.4 L691.2,541.5 L700.2,529.4 L716.2,501.4 L729.4,474.9 L742.2,460.2 L747.7,470.2 L753.8,483.1 L773.9,535.4 L787.3,564.6 L793.4,576.1 L799.4,586.1 L805.4,594.8 L814.4,606.4 L847.5,645.6 L859.6,658.3 L871.6,669.9 L892.7,688.6 L922.7,712.9 L967.9,751.6 L1001.0,778.5 L1016.0,791.9 L1031.1,806.2 L1037.1,812.2 L1057.5,834.4 L1076.5,862.0 L1093.7,888.7 L1109.3,900.0 L1117.8,889.3 L1136.4,842.6 L1162.4,788.0 L1185.4,736.7 L1199.0,718.3 L1213.0,721.8 L1223.1,734.7 L1235.1,751.1 L1247.2,765.4 L1262.2,780.4 L1283.3,798.5 L1298.3,809.9 L1316.4,821.9 L1334.4,832.4 L1355.5,843.4 L1379.6,854.6 L1403.6,864.4 L1430.7,874.1 L1457.8,882.6 L1487.9,890.8 L1530.0,900.9 L1551.1,905.0 L1581.2,909.6 L1596.3,911.3 L1608.3,911.8 L1641.4,911.6 L1665.5,910.1 L1677.5,908.2 L1695.6,904.1 L1707.6,900.4 L1716.6,896.7 L1722.7,893.0 L1746.7,875.6 L1752.7,870.5 L1758.8,864.3 L1776.5,831.9 L1788.0,812.5 L1800.9,799.7 L1806.4,809.7 L1812.5,822.6 L1818.5,838.9 L1834.0,878.0 L1849.0,910.1 L1855.0,921.2 L1861.0,931.1 L1873.1,947.4 L1900.1,979.7 L1927.2,1009.5 L1957.2,1040.4 L1984.3,1066.2 L1993.3,1073.8 L2005.3,1082.6 L2113.6,1155.3 L2200.8,1212.8 L2260.9,1251.9" stroke="#77AC30"/>
<path d="M276.3,593.6 L342.3,600.0 L390.3,603.3 L423.3,604.8 L459.3,605.7 L504.3,605.8 L519.3,605.5 L531.3,604.8 L570.3,600.7 L588.3,598.1 L612.3,593.8 L630.3,589.8 L651.3,583.4 L660.3,579.8 L669.3,575.7 L678.3,570.9 L684.3,567.2 L690.3,562.9 L696.3,558.0 L705.3,548.1 L714.3,535.9 L730.3,507.9 L743.5,481.8 L756.3,468.2 L761.8,477.7 L767.9,490.1 L780.9,522.9 L788.0,541.9 L801.4,571.1 L807.5,582.7 L813.5,592.7 L822.5,605.4 L852.6,641.7 L864.6,655.5 L873.7,664.9 L885.7,676.5 L897.7,687.4 L909.8,697.7 L939.8,721.9 L982.0,758.2 L1015.1,785.1 L1027.1,795.7 L1042.2,809.8 L1051.2,818.8 L1071.6,840.9 L1090.6,868.5 L1107.8,895.2 L1123.4,906.5 L1131.9,895.8 L1150.5,849.1 L1176.5,794.5 L1199.5,743.5 L1213.1,726.3 L1227.1,728.6 L1237.2,741.3 L1249.2,757.6 L1261.3,771.9 L1270.3,781.2 L1279.3,789.7 L1300.4,807.4 L1315.4,818.6 L1333.5,830.3 L1348.5,839.0 L1369.6,850.0 L1393.7,861.2 L1417.7,871.0 L1444.8,880.7 L1471.9,889.2 L1502.0,897.4 L1544.1,907.4 L1565.2,911.6 L1595.3,916.2 L1610.4,917.8 L1622.4,918.3 L1655.5,918.2 L1679.6,916.6 L1691.6,914.7 L1709.7,910.7 L1721.7,906.9 L1730.7,903.2 L1736.8,899.6 L1760.8,882.1 L1766.8,877.0 L1772.9,870.8 L1790.6,838.4 L1802.1,819.4 L1815.0,807.7 L1820.5,817.2 L1826.6,829.6 L1845.1,877.5 L1851.1,891.1 L1863.1,916.6 L1869.1,927.8 L1875.1,937.6 L1887.2,954.0 L1905.2,975.9 L1917.2,989.7 L1944.3,1019.3 L1974.3,1049.9 L1992.4,1067.3 L2001.4,1075.4 L2010.4,1082.7 L2022.5,1091.3 L2130.7,1163.9 L2214.9,1219.3 L2275.0,1258.4" stroke="#0072BD"/>
<path d="M281.1,597.1 L347.1,603.4 L392.1,606.6 L425.1,608.1 L458.1,609.0 L500.1,609.3 L521.1,609.0 L533.1,608.5 L572.1,604.5 L602.1,600.0 L617.1,597.1 L629.1,594.1 L641.1,590.6 L653.1,586.5 L662.1,582.9 L671.1,578.7 L680.1,573.9 L686.1,570.2 L695.1,563.7 L701.1,558.6 L710.1,548.6 L719.1,536.5 L735.1,508.5 L748.3,481.8 L761.1,465.9 L766.6,476.4 L772.7,489.9 L778.7,506.5 L785.7,523.5 L792.8,542.5 L806.2,571.7 L812.3,583.2 L818.3,593.2 L824.3,602.0 L833.3,613.5 L866.4,652.7 L878.5,665.4 L890.5,677.0 L911.6,695.7 L941.6,720.0 L986.8,758.8 L1019.9,785.6 L1034.9,799.0 L1050.0,813.4 L1056.0,819.4 L1076.4,841.5 L1095.4,869.1 L1112.6,895.8 L1128.2,907.1 L1136.7,896.4 L1155.3,849.7 L1181.3,795.1 L1204.3,743.6 L1217.9,724.0 L1231.9,728.8 L1254.0,758.2 L1266.1,772.5 L1281.1,787.5 L1299.2,803.2 L1314.2,814.8 L1332.3,827.1 L1350.3,837.9 L1371.4,849.1 L1395.5,860.4 L1419.5,870.4 L1446.6,880.3 L1473.7,888.9 L1506.8,898.0 L1548.9,908.0 L1570.0,912.1 L1600.1,916.7 L1615.2,918.4 L1627.2,918.9 L1660.3,918.7 L1684.4,917.2 L1696.4,915.3 L1714.5,911.2 L1726.5,907.5 L1735.5,903.8 L1741.6,900.1 L1765.6,882.7 L1771.6,877.6 L1777.7,871.4 L1795.4,839.0 L1806.9,819.4 L1819.8,805.4 L1825.3,815.9 L1831.4,829.4 L1837.4,846.0 L1852.9,885.1 L1867.9,917.2 L1873.9,928.3 L1879.9,938.2 L1892.0,954.6 L1919.0,986.9 L1946.1,1016.7 L1976.1,1047.5 L2003.2,1073.4 L2012.2,1080.9 L2024.2,1089.8 L2132.5,1162.4 L2219.7,1219.9 L2279.8,1259.0" stroke="#7E2F8E"/>
<path d="M289.6,600.2 L355.6,606.6 L403.6,609.9 L436.6,611.3 L472.6,612.3 L517.6,612.4 L532.6,612.1 L544.6,611.4 L583.6,607.3 L601.6,604.7 L625.6,600.4 L643.6,596.3 L664.6,589.8 L673.6,586.3 L682.6,582.1 L691.6,577.3 L697.6,573.5 L703.6,569.2 L709.6,564.3 L718.6,554.4 L727.6,542.2 L743.6,514.2 L756.8,488.0 L769.6,474.2 L775.1,483.8 L781.2,496.3 L801.3,548.2 L814.7,577.4 L820.8,589.0 L826.8,599.0 L835.8,611.7 L865.9,648.0 L877.9,661.8 L887.0,671.2 L899.0,682.8 L911.0,693.7 L923.1,704.0 L953.2,728.2 L995.3,764.5 L1028.4,791.4 L1040.4,802.0 L1055.5,816.1 L1064.5,825.1 L1084.9,847.2 L1103.9,874.8 L1121.1,901.5 L1136.7,912.8 L1145.2,902.1 L1163.8,855.4 L1189.8,800.8 L1212.8,749.7 L1226.4,732.3 L1240.4,734.8 L1250.5,747.6 L1262.5,763.9 L1274.6,778.2 L1289.6,793.3 L1310.7,811.4 L1325.7,822.7 L1343.8,834.7 L1361.8,845.3 L1382.9,856.3 L1407.0,867.5 L1431.0,877.3 L1458.1,887.0 L1485.2,895.5 L1515.3,903.7 L1557.4,913.7 L1578.5,917.9 L1608.6,922.5 L1623.7,924.1 L1635.7,924.6 L1668.8,924.5 L1692.9,922.9 L1704.9,921.0 L1723.0,917.0 L1735.0,913.2 L1744.0,909.5 L1750.1,905.9 L1774.1,888.4 L1780.1,883.3 L1786.2,877.1 L1803.9,844.7 L1815.4,825.6 L1828.3,813.7 L1833.8,823.3 L1839.9,835.8 L1858.4,883.8 L1864.4,897.4 L1876.4,922.9 L1882.4,934.1 L1888.4,943.9 L1900.5,960.3 L1918.5,982.2 L1930.5,996.0 L1957.6,1025.6 L1987.6,1056.2 L2005.7,1073.6 L2014.7,1081.7 L2023.7,1089.0 L2035.8,1097.6 L2144.0,1170.2 L2228.2,1225.6 L2288.3,1264.7" stroke="#77AC30"/>
<path d="M293.7,602.7 L359.7,609.1 L407.7,612.4 L440.7,613.8 L476.7,614.8 L521.7,614.9 L536.7,614.6 L548.7,613.9 L587.7,609.8 L605.7,607.2 L629.7,602.9 L647.7,598.9 L668.7,592.4 L677.7,588.9 L686.7,584.8 L695.7,580.0 L701.7,576.3 L707.7,572.0 L713.7,567.1 L722.7,557.2 L731.7,545.0 L747.7,517.0 L760.9,490.9 L773.7,477.3 L779.2,486.8 L785.3,499.2 L798.3,532.0 L805.4,551.0 L818.8,580.2 L824.9,591.8 L830.9,601.8 L839.9,614.5 L870.0,650.8 L882.0,664.6 L891.1,674.0 L903.1,685.6 L915.1,696.5 L927.2,706.8 L957.2,731.0 L999.4,767.3 L1032.5,794.2 L1044.5,804.8 L1059.6,818.9 L1068.6,827.9 L1089.0,850.0 L1108.0,877.6 L1125.2,904.3 L1140.8,915.6 L1149.3,904.9 L1167.9,858.2 L1193.9,803.6 L1216.9,752.6 L1230.5,735.4 L1244.5,737.6 L1254.6,750.4 L1266.6,766.7 L1278.7,781.0 L1287.7,790.3 L1296.7,798.8 L1317.8,816.5 L1332.8,827.6 L1350.9,839.4 L1365.9,848.1 L1387.0,859.1 L1411.1,870.3 L1435.1,880.1 L1462.2,889.8 L1489.3,898.3 L1519.4,906.5 L1561.5,916.5 L1582.6,920.7 L1612.7,925.3 L1627.8,926.9 L1639.8,927.4 L1672.9,927.3 L1697.0,925.7 L1709.0,923.8 L1727.1,919.7 L1739.1,916.0 L1748.1,912.3 L1754.2,908.7 L1778.2,891.2 L1784.2,886.1 L1790.3,879.9 L1808.0,847.5 L1819.5,828.4 L1832.4,816.8 L1837.9,826.3 L1844.0,838.7 L1862.5,886.6 L1868.5,900.2 L1880.5,925.7 L1886.5,936.8 L1892.5,946.7 L1904.6,963.1 L1922.6,984.9 L1934.6,998.8 L1961.7,1028.4 L1991.7,1059.0 L2009.8,1076.4 L2018.8,1084.5 L2027.8,1091.7 L2039.9,1100.4 L2148.1,1173.0 L2232.3,1228.4 L2292.4,1267.5" stroke="#A2142F"/>
<path d="M279.6,604.9 L345.6,611.3 L390.6,614.5 L423.6,615.9 L459.6,617.0 L501.6,617.1 L519.6,616.9 L531.6,616.3 L570.6,612.4 L597.6,608.4 L618.6,604.5 L630.6,601.7 L651.6,595.4 L660.6,592.0 L669.6,588.1 L678.6,583.5 L684.6,579.9 L693.6,573.7 L699.6,568.7 L708.6,558.8 L717.6,546.6 L733.6,518.6 L746.8,492.4 L759.6,478.3 L765.1,488.0 L771.2,500.6 L791.3,552.6 L807.7,587.9 L813.8,598.5 L822.8,612.1 L831.8,623.6 L852.9,648.8 L864.9,662.9 L873.9,672.5 L886.0,684.4 L898.0,695.4 L913.1,708.4 L943.2,732.6 L985.3,768.9 L1018.4,795.8 L1030.4,806.4 L1045.5,820.5 L1054.5,829.5 L1074.9,851.6 L1093.9,879.2 L1111.1,905.9 L1126.7,917.2 L1135.2,906.5 L1153.8,859.8 L1179.8,805.2 L1202.8,754.1 L1216.4,736.4 L1230.4,739.2 L1240.5,752.0 L1252.5,768.3 L1264.6,782.6 L1279.6,797.7 L1300.7,815.8 L1315.7,827.1 L1333.8,839.1 L1351.8,849.7 L1372.9,860.7 L1397.0,871.9 L1421.0,881.7 L1448.1,891.4 L1475.2,899.9 L1505.3,908.1 L1547.4,918.1 L1568.5,922.3 L1598.6,926.9 L1613.7,928.5 L1625.7,929.0 L1658.8,928.9 L1682.9,927.3 L1694.9,925.4 L1713.0,921.4 L1725.0,917.6 L1734.0,913.9 L1740.1,910.3 L1764.1,892.8 L1770.1,887.7 L1776.2,881.5 L1793.9,849.1 L1805.4,829.9 L1818.3,817.8 L1823.8,827.5 L1829.9,840.1 L1848.4,888.2 L1854.4,901.8 L1866.4,927.3 L1872.4,938.5 L1878.4,948.3 L1890.5,964.7 L1908.5,986.6 L1920.5,1000.4 L1947.6,1030.0 L1977.6,1060.6 L1995.7,1078.0 L2004.7,1086.1 L2013.7,1093.3 L2025.8,1102.0 L2134.0,1174.6 L2218.2,1230.0 L2278.3,1269.1" stroke="#EDB120"/>
<path d="M301.4,609.9 L367.4,616.3 L412.4,619.5 L445.4,620.9 L478.4,621.9 L517.4,622.2 L550.4,621.5 L565.4,620.3 L589.4,617.7 L619.4,613.4 L634.4,610.5 L646.4,607.6 L658.4,603.9 L670.4,599.8 L679.4,596.2 L688.4,592.0 L697.4,587.3 L706.4,581.7 L715.4,575.1 L721.4,569.9 L730.4,560.0 L739.4,547.8 L755.4,519.8 L768.6,492.8 L781.4,475.8 L786.9,486.8 L793.0,500.8 L799.0,517.8 L806.0,534.8 L813.1,553.8 L826.5,583.0 L832.6,594.6 L838.6,604.6 L844.6,613.3 L853.6,624.8 L886.7,664.1 L898.8,676.8 L910.8,688.4 L931.9,707.1 L961.9,731.3 L1007.1,770.1 L1040.2,796.9 L1055.2,810.3 L1070.3,824.7 L1076.3,830.7 L1096.7,852.8 L1115.7,880.4 L1132.9,907.1 L1148.5,918.4 L1157.0,907.7 L1175.6,861.0 L1201.6,806.4 L1224.6,754.7 L1238.2,733.9 L1252.2,739.9 L1274.3,769.5 L1286.4,783.8 L1301.4,798.8 L1319.5,814.5 L1334.5,826.2 L1352.6,838.4 L1370.6,849.2 L1391.7,860.4 L1415.8,871.8 L1439.8,881.7 L1466.9,891.6 L1494.0,900.2 L1527.1,909.3 L1569.2,919.3 L1590.3,923.5 L1620.4,928.0 L1635.5,929.7 L1647.5,930.2 L1680.6,930.1 L1704.7,928.5 L1716.7,926.6 L1734.8,922.5 L1746.8,918.8 L1755.8,915.1 L1761.9,911.5 L1785.9,894.0 L1791.9,888.9 L1798.0,882.7 L1815.7,850.3 L1827.2,830.4 L1840.1,815.3 L1845.6,826.3 L1851.7,840.3 L1857.7,857.3 L1873.2,896.4 L1888.2,928.5 L1894.2,939.6 L1900.2,949.5 L1912.3,965.9 L1939.3,998.2 L1966.4,1028.0 L1996.4,1058.8 L2023.5,1084.7 L2032.5,1092.2 L2044.5,1101.1 L2152.8,1173.8 L2240.0,1231.2 L2300.1,1270.3" stroke="#A2142F"/>
</g>
<rect x="342.0" y="167.0" width="1778.0" height="1074.0" fill="none" stroke="#5c5c5c" stroke-width="2"/>
<line x1="342.0" y1="195.3" x2="361.0" y2="195.3" class="tk"/>
<line x1="2120.0" y1="195.3" x2="2101.0" y2="195.3" class="tk"/>
<line x1="342.0" y1="376.6" x2="361.0" y2="376.6" class="tk"/>
<line x1="2120.0" y1="376.6" x2="2101.0" y2="376.6" class="tk"/>
<line x1="342.0" y1="558.0" x2="361.0" y2="558.0" class="tk"/>
<line x1="2120.0" y1="558.0" x2="2101.0" y2="558.0" class="tk"/>
<line x1="342.0" y1="739.3" x2="361.0" y2="739.3" class="tk"/>
<line x1="2120.0" y1="739.3" x2="2101.0" y2="739.3" class="tk"/>
<line x1="342.0" y1="920.7" x2="361.0" y2="920.7" class="tk"/>
<line x1="2120.0" y1="920.7" x2="2101.0" y2="920.7" class="tk"/>
<line x1="342.0" y1="1102.0" x2="361.0" y2="1102.0" class="tk"/>
<line x1="2120.0" y1="1102.0" x2="2101.0" y2="1102.0" class="tk"/>
<line x1="354.0" y1="1241.0" x2="354.0" y2="1231.0" class="tk"/>
<line x1="354.0" y1="167.0" x2="354.0" y2="177.0" class="tk"/>
<line x1="665.6" y1="1241.0" x2="665.6" y2="1231.0" class="tk"/>
<line x1="665.6" y1="167.0" x2="665.6" y2="177.0" class="tk"/>
<line x1="886.7" y1="1241.0" x2="886.7" y2="1231.0" class="tk"/>
<line x1="886.7" y1="167.0" x2="886.7" y2="177.0" class="tk"/>
<line x1="1058.2" y1="1241.0" x2="1058.2" y2="1231.0" class="tk"/>
<line x1="1058.2" y1="167.0" x2="1058.2" y2="177.0" class="tk"/>
<line x1="1198.4" y1="1241.0" x2="1198.4" y2="1231.0" class="tk"/>
<line x1="1198.4" y1="167.0" x2="1198.4" y2="177.0" class="tk"/>
<line x1="1316.9" y1="1241.0" x2="1316.9" y2="1231.0" class="tk"/>
<line x1="1316.9" y1="167.0" x2="1316.9" y2="177.0" class="tk"/>
<line x1="1419.5" y1="1241.0" x2="1419.5" y2="1231.0" class="tk"/>
<line x1="1419.5" y1="167.0" x2="1419.5" y2="177.0" class="tk"/>
<line x1="1510.0" y1="1241.0" x2="1510.0" y2="1231.0" class="tk"/>
<line x1="1510.0" y1="167.0" x2="1510.0" y2="177.0" class="tk"/>
<line x1="1591.0" y1="1241.0" x2="1591.0" y2="1223.0" class="tk"/>
<line x1="1591.0" y1="167.0" x2="1591.0" y2="185.0" class="tk"/>
<text x="323.5" y="211.3" text-anchor="end" class="tl">-160</text>
<text x="323.5" y="392.6" text-anchor="end" class="tl">-180</text>
<text x="323.5" y="574.0" text-anchor="end" class="tl">-200</text>
<text x="323.5" y="755.3" text-anchor="end" class="tl">-220</text>
<text x="323.5" y="936.7" text-anchor="end" class="tl">-240</text>
<text x="323.5" y="1118.0" text-anchor="end" class="tl">-260</text>
<text x="1558.5" y="1314.8" class="tl">10</text>
<text x="1606" y="1294.7" class="tl" style="font-size:34px">5</text>
<text x="1228" y="155" text-anchor="middle" class="lab" font-weight="bold">Bode Diagram</text>
<text x="1229" y="1370.2" text-anchor="middle" class="lab" xml:space="preserve">Frequency  (rad/s)</text>
<text transform="translate(217.4,704.2) rotate(-90)" text-anchor="middle" class="lab">Magnitude (dB)</text>
</svg>
</body></html>
